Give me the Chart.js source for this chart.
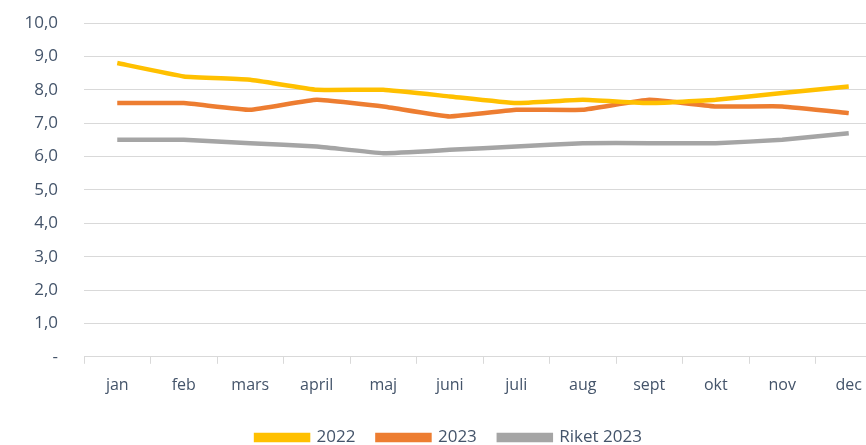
<!DOCTYPE html>
<html>
<head>
<meta charset="utf-8">
<script src="https://cdn.jsdelivr.net/npm/chart.js@4"></script>
<style>
  html, body { margin: 0; padding: 0; background: #fff; overflow: hidden; }
  #wrap { width: 882px; height: 456px; }
</style>
</head>
<body>
<div id="wrap"><canvas id="mainChart"></canvas></div>
<script>
// data
const months = ["jan", "feb", "mars", "april", "maj", "juni", "juli", "aug", "sept", "okt", "nov", "dec"];
const values2022 = [8.8, 8.4, 8.3, 8.0, 8.0, 7.8, 7.6, 7.7, 7.6, 7.7, 7.9, 8.1];
const values2023 = [7.6, 7.6, 7.4, 7.7, 7.5, 7.2, 7.4, 7.4, 7.7, 7.5, 7.5, 7.3];
const valuesRiket = [6.5, 6.5, 6.4, 6.3, 6.1, 6.2, 6.3, 6.4, 6.4, 6.4, 6.5, 6.7];
const seriesNames = ["2022", "2023", "Riket 2023"];
const seriesColors = ["#FFC000", "#ED7D31", "#A5A5A5"];

const textColor = "#44546A";
const fontFamily = "'Open Sans', 'Noto Sans', sans-serif";

function makeDataset(i, data) {
    return {
        label: seriesNames[i],
        data: data,
        borderColor: seriesColors[i],
        backgroundColor: seriesColors[i],
        borderWidth: 4.5,
        pointRadius: 0,
        tension: 0.1,
        fill: false
    };
}

const canvas_1 = document.getElementById("mainChart");
new Chart(canvas_1, {
    type: "line",
    data: {
        labels: months,
        datasets: [
            makeDataset(0, values2022),
            makeDataset(1, values2023),
            makeDataset(2, valuesRiket)
        ]
    },
    options: {
        responsive: true,
        maintainAspectRatio: false,
        animation: false,
        layout: { padding: { left: 16, top: 23, right: 0, bottom: 0 } },
        scales: {
            x: {
                offset: true,
                grid: {
                    display: true,
                    offset: true,
                    drawOnChartArea: false,
                    drawTicks: true,
                    tickLength: 7,
                    color: "#D9D9D9"
                },
                border: { display: true, color: "#D9D9D9" },
                ticks: {
                    color: textColor,
                    padding: 12,
                    maxRotation: 0,
                    autoSkip: false,
                    font: { family: fontFamily, size: 16 }
                }
            },
            y: {
                min: 0,
                max: 10,
                afterFit: function(s) { s.width = 68; },
                // transparent tick marks push the labels away from the plot
                grid: { color: "#D9D9D9", drawTicks: true, tickLength: 22, tickColor: "rgba(0,0,0,0)" },
                border: { display: false },
                ticks: {
                    stepSize: 1,
                    padding: 4,
                    color: textColor,
                    font: { family: fontFamily, size: 17 },
                    callback: function(v) {
                        if (v === 0) return "-";
                        return v.toFixed(1).replace(".", ",");
                    }
                }
            }
        },
        plugins: {
            legend: {
                position: "bottom",
                labels: {
                    color: textColor,
                    boxWidth: 52,
                    boxHeight: 5,
                    padding: 22,
                    font: { family: fontFamily, size: 17 }
                }
            },
            tooltip: { enabled: false }
        }
    }
});
</script>
</body>
</html>
